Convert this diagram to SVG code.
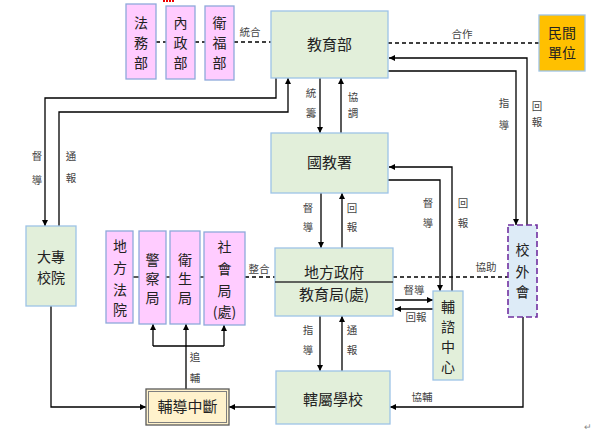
<svg xmlns="http://www.w3.org/2000/svg" width="593" height="434" viewBox="0 0 593 434">
<defs>
<marker id="ah" viewBox="0 0 10 10" refX="10" refY="5" markerWidth="6" markerHeight="6" markerUnits="userSpaceOnUse" orient="auto">
<path d="M0,0 L10,5 L0,10 Z" fill="#000"/>
</marker>
</defs>
<style>
text{font-family:"Noto Sans CJK TC","Noto Sans CJK SC",sans-serif;fill:#222;text-anchor:middle}
.t{font-size:14px}
.s{font-size:10.5px;fill:#444}
.g rect{fill:#E2EFDA;stroke:#9DC3E6;stroke-width:1.3}
.p rect{fill:#FFCCFF;stroke:#8EA9DB;stroke-width:1.3}
.ln{fill:none;stroke:#000;stroke-width:1.3}
.ar{fill:none;stroke:#000;stroke-width:1.3;marker-end:url(#ah)}
.da{fill:none;stroke:#000;stroke-width:1.3;stroke-dasharray:4,3}
</style>
<rect width="593" height="434" fill="#fff"/>
<line x1="163" y1="1" x2="174" y2="1" stroke="#E00" stroke-width="2" stroke-dasharray="2,1"/>
<g id="connectors">
<line class="da" x1="156" y1="42" x2="166" y2="42"/>
<line class="da" x1="195" y1="42" x2="205" y2="42"/>
<line class="da" x1="234" y1="42" x2="271" y2="42"/>
<line class="da" x1="388" y1="43" x2="539" y2="43"/>
<polyline class="ar" points="276,78 276,98 45,98 45,226"/>
<polyline class="ar" points="59,226 59,112 288,112 288,78"/>
<line class="ar" x1="320" y1="78" x2="320" y2="133"/>
<line class="ar" x1="341" y1="133" x2="341" y2="78"/>
<polyline class="ar" points="527,225 527,58 389,58"/>
<polyline class="ar" points="388,71 516,71 516,225"/>
<polyline class="ar" points="388,180 440,180 440,291"/>
<polyline class="ar" points="452,291 452,167 389,167"/>
<line class="ar" x1="321" y1="193" x2="321" y2="248"/>
<line class="ar" x1="342" y1="248" x2="342" y2="193"/>
<line class="da" x1="393" y1="277" x2="508" y2="277"/>
<line class="da" x1="245" y1="277" x2="275" y2="277"/>
<line class="ln" x1="133" y1="277" x2="139" y2="277"/>
<line class="ln" x1="166" y1="277" x2="170" y2="277"/>
<line class="ln" x1="200" y1="277" x2="204" y2="277"/>
<line class="ar" x1="395" y1="300" x2="433" y2="300"/>
<line class="ar" x1="433" y1="309" x2="395" y2="309"/>
<line class="ar" x1="320" y1="316" x2="320" y2="371"/>
<line class="ar" x1="342" y1="371" x2="342" y2="316"/>
<polyline class="ar" points="523,317 523,407 390,407"/>
<line class="ar" x1="276" y1="407" x2="229" y2="407"/>
<polyline class="ar" points="51,306 51,407 146,407"/>
<line class="ar" x1="186" y1="389" x2="186" y2="324"/>
<line class="ln" x1="153" y1="346" x2="224" y2="346"/>
<line class="ar" x1="153" y1="346" x2="153" y2="324"/>
<line class="ar" x1="224" y1="346" x2="224" y2="325"/>
<text class="s" x="250" y="36">統合</text>
<text class="s" x="462" y="38">合作</text>
<text class="s" x="37" y="160">督</text><text class="s" x="37" y="184">導</text>
<text class="s" x="71" y="160">通</text><text class="s" x="71" y="182">報</text>
<text class="s" x="311" y="97">統</text><text class="s" x="311" y="117">籌</text>
<text class="s" x="353" y="101">協</text><text class="s" x="353" y="117">調</text>
<text class="s" x="504" y="107">指</text><text class="s" x="504" y="129">導</text>
<text class="s" x="537" y="110">回</text><text class="s" x="537" y="126">報</text>
<text class="s" x="308" y="212">督</text><text class="s" x="308" y="231">導</text>
<text class="s" x="352" y="212">回</text><text class="s" x="352" y="231">報</text>
<text class="s" x="428" y="207">督</text><text class="s" x="428" y="227">導</text>
<text class="s" x="463" y="207">回</text><text class="s" x="463" y="227">報</text>
<text class="s" x="259" y="273">整合</text>
<text class="s" x="486" y="271">協助</text>
<text class="s" x="414" y="294">督導</text>
<text class="s" x="416" y="321">回報</text>
<text class="s" x="308" y="334">指</text><text class="s" x="308" y="354">導</text>
<text class="s" x="352" y="334">通</text><text class="s" x="352" y="354">報</text>
<text class="s" x="195" y="361">追</text><text class="s" x="195" y="382">輔</text>
<text class="s" x="422" y="401">協輔</text>
</g>
<g id="fawubu" class="p"><rect x="126" y="4" width="30" height="75"/><text class="t" x="141" y="28">法</text><text class="t" x="141" y="48">務</text><text class="t" x="141" y="68">部</text></g>
<g id="neizhengbu" class="p"><rect x="166" y="6" width="29" height="73"/><text class="t" x="180.5" y="28">內</text><text class="t" x="180.5" y="48">政</text><text class="t" x="180.5" y="68">部</text></g>
<g id="weifubu" class="p"><rect x="205" y="6" width="29" height="74"/><text class="t" x="219.5" y="28">衛</text><text class="t" x="219.5" y="48">福</text><text class="t" x="219.5" y="68">部</text></g>
<g id="jiaoyubu" class="g"><rect x="271" y="11" width="117" height="67"/><text class="t" x="329.5" y="50" style="font-size:15px">教育部</text></g>
<g id="minjian"><rect x="539" y="15" width="46" height="56" fill="#FFC000" stroke="#9DC3E6" stroke-width="1.3"/><text class="t" x="562" y="38">民間</text><text class="t" x="562" y="58">單位</text></g>
<g id="guojiaoshu" class="g"><rect x="271" y="133" width="117" height="60"/><text class="t" x="329.5" y="168" style="font-size:15px">國教署</text></g>
<g id="dazhuan" class="g"><rect x="26" y="226" width="50" height="80"/><text class="t" x="51" y="262">大專</text><text class="t" x="51" y="283">校院</text></g>
<g id="fayuan" class="p"><rect x="106" y="231" width="27" height="92"/><text class="t" x="120" y="251">地</text><text class="t" x="120" y="273">方</text><text class="t" x="120" y="295">法</text><text class="t" x="120" y="315">院</text></g>
<g id="jingcha" class="p"><rect x="139" y="231" width="27" height="93"/><text class="t" x="152.5" y="265">警</text><text class="t" x="152.5" y="284">察</text><text class="t" x="152.5" y="303">局</text></g>
<g id="weisheng" class="p"><rect x="170" y="231" width="30" height="93"/><text class="t" x="185" y="265">衛</text><text class="t" x="185" y="284">生</text><text class="t" x="185" y="303">局</text></g>
<g id="shehui" class="p"><rect x="204" y="232" width="41" height="93"/><text class="t" x="224.5" y="252">社</text><text class="t" x="224.5" y="274">會</text><text class="t" x="224.5" y="296">局</text><text class="t" x="224.5" y="317">(處)</text></g>
<g id="difang" class="g"><rect x="275" y="248" width="118" height="68"/><line x1="275" y1="282" x2="393" y2="282" stroke="#333" stroke-width="1.3"/><text class="t" x="334" y="278" style="font-size:15px">地方政府</text><text class="t" x="334" y="300" style="font-size:15px">教育局(處)</text></g>
<g id="fuzi" class="g"><rect x="433" y="291" width="30" height="89"/><text class="t" x="448" y="312">輔</text><text class="t" x="448" y="332">諮</text><text class="t" x="448" y="352">中</text><text class="t" x="448" y="372">心</text></g>
<g id="xiaowai"><rect x="508" y="225" width="29" height="92" fill="#DDEBF7" stroke="#7030A0" stroke-width="1.6" stroke-dasharray="6,3"/><text class="t" x="522.5" y="255">校</text><text class="t" x="522.5" y="277">外</text><text class="t" x="522.5" y="297">會</text></g>
<g id="xiashu" class="g"><rect x="276" y="371" width="114" height="53"/><text class="t" x="333" y="405" style="font-size:15px">轄屬學校</text></g>
<g id="fudaozhongduan"><rect x="146" y="389" width="83" height="36" fill="#FFF2CC" stroke="#595959" stroke-width="1.3"/><rect x="148.5" y="391.5" width="78" height="31" fill="none" stroke="#7F7F7F" stroke-width="1"/><text class="t" x="187.5" y="412" style="font-size:15px">輔導中斷</text></g>
<text x="588" y="430" style="font-size:9px;fill:#888">↵</text>
</svg>
